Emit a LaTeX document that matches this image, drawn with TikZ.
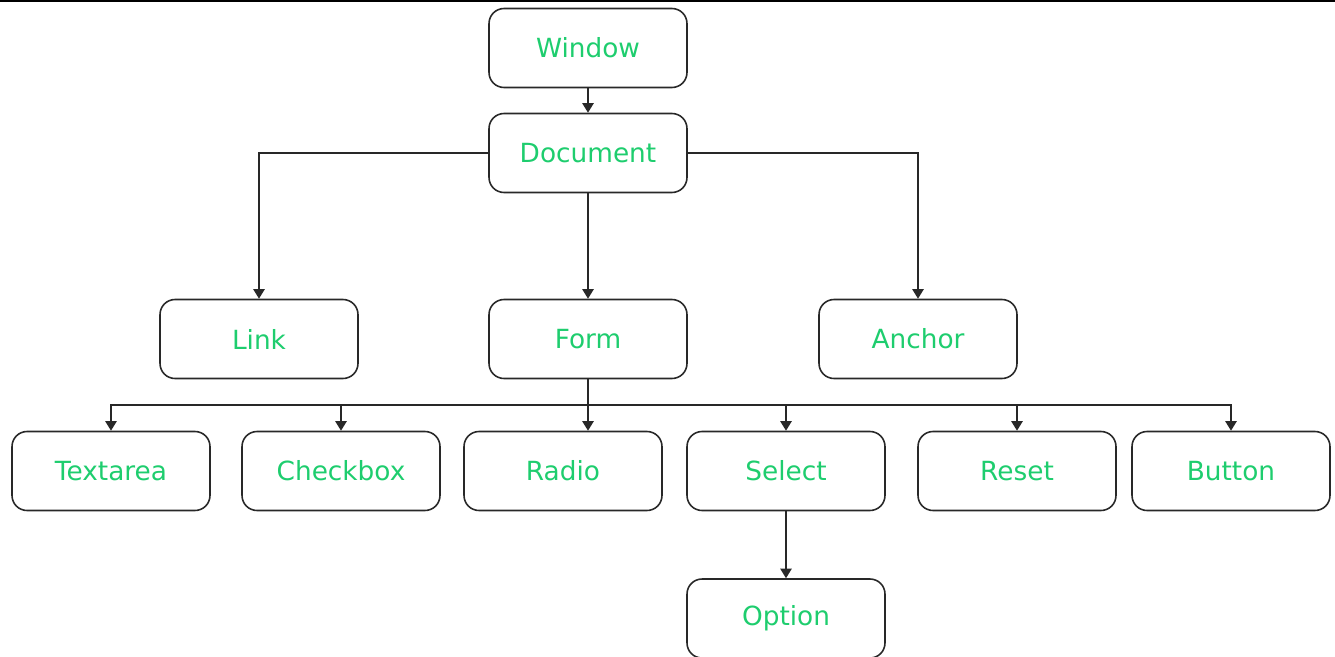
\documentclass[tikz,border=0pt]{standalone}
\usepackage{fontspec}
\setmainfont{DejaVu Sans}
\usepackage{tikz}
\usetikzlibrary{arrows.meta, positioning}

\definecolor{txtgreen}{RGB}{30,205,110}
\definecolor{edgegray}{RGB}{40,40,40}

\tikzset{
	objbox/.style={draw=edgegray, line width=0.9pt, rounded corners=0.3cm,
		minimum width=3.96cm, minimum height=1.58cm, inner sep=0pt,
		text=txtgreen, font=\fontsize{15}{17}\selectfont},
	link/.style={draw=edgegray, line width=0.9pt,
		-{Triangle[length=5.5pt, width=6.5pt]}}
}

\begin{document}
\begin{tikzpicture}[x=0.02cm, y=-0.02cm]
		\useasboundingbox (0,0) rectangle (1335,656);
		% Rule across the top edge
		\draw[line width=1.2pt] (0,0.6) -- (1335,0.6);
		% Object hierarchy
		\node[objbox] (window)   at (588,48)  {Window};
		\node[objbox] (document) at (588,153) {Document};
		\node[objbox] (link)     at (259,339) {Link};
		\node[objbox] (form)     at (588,339) {Form};
		\node[objbox] (anchor)   at (918,339) {Anchor};
		% Form elements
		\node[objbox] (textarea) at (111,471)  {Textarea};
		\node[objbox] (checkbox) at (341,471)  {Checkbox};
		\node[objbox] (radio)    at (563,471)  {Radio};
		\node[objbox] (select)   at (786,471)  {Select};
		\node[objbox] (reset)    at (1017,471) {Reset};
		\node[objbox] (button)   at (1231,471) {Button};
		\node[objbox] (option)   at (786,618.5) {Option};
		% Connectors
		\draw[link] (window) -- (document);
		\draw[link] (document.west) -| (link.north);
		\draw[link] (document.east) -| (anchor.north);
		\draw[link] (document) -- (form);
		\coordinate (bus) at (588,405);
		\draw[link] (form.south) -- (form.south |- radio.north);
		\foreach \n in {textarea, checkbox, select, reset, button}
			\draw[link] (bus) -| (\n.north);
		\draw[link] (select) -- (option);
	\end{tikzpicture}
\end{document}
